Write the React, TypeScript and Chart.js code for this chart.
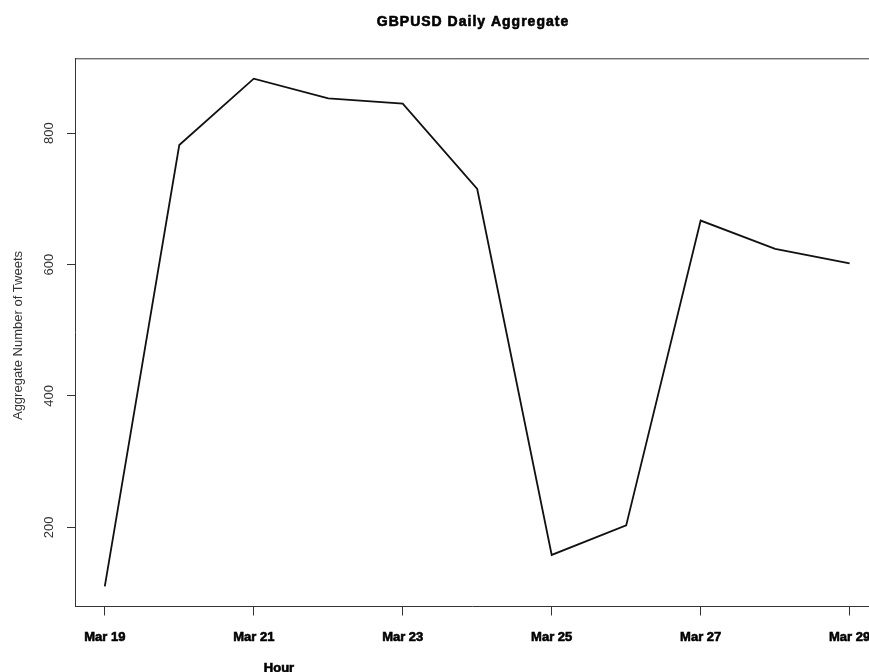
import { useEffect, useRef } from 'react'
import Chart from 'chart.js/auto'

const days = ['Mar 19', 'Mar 20', 'Mar 21', 'Mar 22', 'Mar 23', 'Mar 24', 'Mar 25', 'Mar 26', 'Mar 27', 'Mar 28', 'Mar 29']
const tweets = [110, 782, 883, 853, 845, 715, 158, 203, 667, 624, 602]
const xTickIdx = [0, 2, 4, 6, 8, 10]
const yTicks = [200, 400, 600, 800]

const FONT = '"Liberation Sans", Arial, sans-serif'

// R-style text: title, rotated y labels, axis titles
const rTextPlugin = {
  id: 'rText',
  afterDraw(chart: Chart) {
    const { ctx, chartArea } = chart
    const yScale = chart.scales.y
    ctx.save()

    // top of the box
    ctx.strokeStyle = '#333'
    ctx.lineWidth = 1
    ctx.beginPath()
    ctx.moveTo(chartArea.left, chartArea.top + 0.5)
    ctx.lineTo(chartArea.right, chartArea.top + 0.5)
    ctx.stroke()

    ctx.fillStyle = '#000'
    ctx.strokeStyle = '#000'
    ctx.lineWidth = 0.6
    ctx.textAlign = 'center'
    ctx.textBaseline = 'alphabetic'
    ctx.font = `bold 14px ${FONT}`
    ;(ctx as any).letterSpacing = '1px'
    ctx.fillText('GBPUSD Daily Aggregate', 473, 26)
    ctx.strokeText('GBPUSD Daily Aggregate', 473, 26)
    ;(ctx as any).letterSpacing = '0px'

    ctx.font = `bold 13px ${FONT}`
    ctx.fillText('Hour', 279, 671.5)
    ctx.strokeText('Hour', 279, 671.5)

    // y tick labels, rotated like R's las=0
    ctx.fillStyle = '#333'
    ctx.font = `13px ${FONT}`
    yTicks.forEach(v => {
      ctx.save()
      ctx.translate(53, yScale.getPixelForValue(v))
      ctx.rotate(-Math.PI / 2)
      ctx.fillText(String(v), 0, 0)
      ctx.restore()
    })

    ctx.save()
    ctx.translate(21.5, 335.5)
    ctx.rotate(-Math.PI / 2)
    ctx.fillText('Aggregate Number of Tweets', 0, 0)
    ctx.restore()

    ctx.restore()
  }
}

const App = () => {
  const chartRef = useRef<HTMLCanvasElement>(null)
  const chartInstance = useRef<Chart | null>(null)

  useEffect(() => {
    if (!chartRef.current) return
    document.body.style.margin = '0'

    if (chartInstance.current) {
      chartInstance.current.destroy()
    }

    chartInstance.current = new Chart(chartRef.current, {
      type: 'line',
      data: {
        datasets: [
          {
            label: 'Tweets',
            data: tweets.map((v, i) => ({ x: i, y: v })),
            borderColor: '#111',
            borderWidth: 1.8,
            pointRadius: 0,
            tension: 0,
            fill: false
          }
        ]
      },
      options: {
        responsive: true,
        maintainAspectRatio: false,
        animation: false,
        layout: { padding: { top: 58.3, left: 0, right: 0, bottom: 0 } },
        plugins: {
          legend: { display: false },
          title: { display: false },
          tooltip: { enabled: false }
        },
        scales: {
          x: {
            type: 'linear',
            min: -0.4,
            max: 10.26,
            afterBuildTicks: scale => {
              scale.ticks = xTickIdx.map(v => ({ value: v }))
            },
            afterFit: scale => {
              scale.height = 65.5
              scale.paddingLeft = 0
              scale.paddingRight = 0
            },
            ticks: {
              autoSkip: false,
              maxRotation: 0,
              minRotation: 0,
              padding: 14,
              color: '#000',
              textStrokeColor: '#000',
              textStrokeWidth: 0.6,
              font: { family: FONT, size: 13, weight: 'bold' },
              callback: value => days[Number(value)] ?? ''
            },
            grid: {
              drawOnChartArea: false,
              drawTicks: true,
              tickLength: 9,
              color: '#333'
            },
            border: { display: true, color: '#333', width: 1 }
          },
          y: {
            min: 79.5,
            max: 914,
            afterBuildTicks: scale => {
              scale.ticks = yTicks.map(v => ({ value: v }))
            },
            afterFit: scale => {
              scale.width = 75
              scale.paddingTop = 0
              scale.paddingBottom = 0
            },
            ticks: { display: false },
            grid: {
              drawOnChartArea: false,
              drawTicks: true,
              tickLength: 8,
              color: '#333'
            },
            border: { display: true, color: '#333', width: 1 }
          }
        }
      },
      plugins: [rTextPlugin]
    })

    return () => {
      if (chartInstance.current) {
        chartInstance.current.destroy()
        chartInstance.current = null
      }
    }
  }, [])

  return (
    <div style={{ position: 'relative', width: 869, height: 672, background: '#fff' }}>
      <canvas ref={chartRef}></canvas>
    </div>
  )
}

export default App
